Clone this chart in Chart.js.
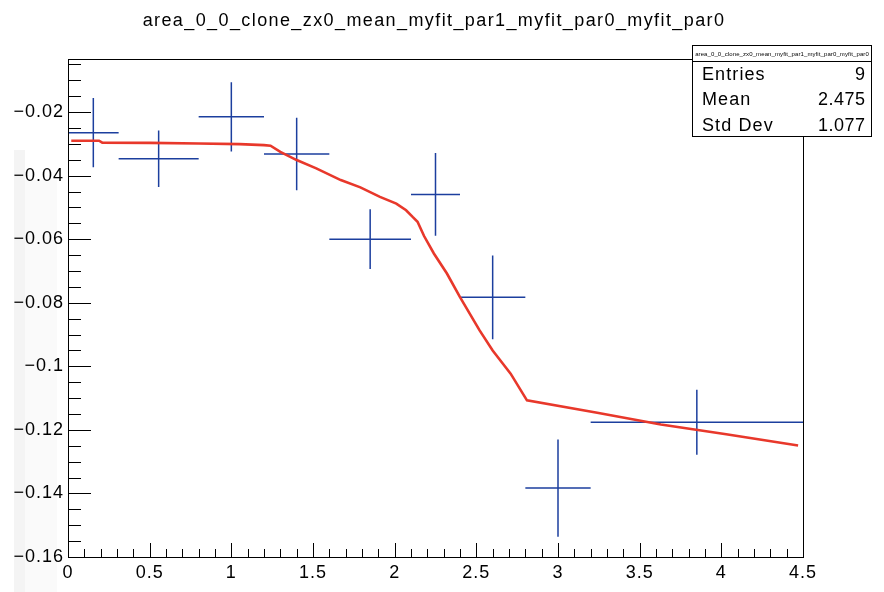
<!DOCTYPE html>
<html>
<head>
<meta charset="utf-8">
<script src="https://cdn.jsdelivr.net/npm/chart.js@4"></script>
<style>
  html, body { margin: 0; padding: 0; background: #fff; }
  #wrap { width: 884px; height: 592px; }
</style>
</head>
<body>
<div id="wrap"><canvas id="fitChart" width="884" height="592"></canvas></div>
<script>
const histName = "area_0_0_clone_zx0_mean_myfit_par1_myfit_par0_myfit_par0";

// bins (variable width) and mean values with errors
const binLow  = [0, 0.31, 0.8, 1.2, 1.6, 2.1, 2.4, 2.8, 3.2];
const binHigh = [0.31, 0.8, 1.2, 1.6, 2.1, 2.4, 2.8, 3.2, 4.5];
const binCenter = [0.155, 0.555, 1.0, 1.4, 1.85, 2.25, 2.6, 3.0, 3.85];
const binMean = [-0.0265, -0.0347, -0.0215, -0.0332, -0.0600, -0.0459, -0.0783, -0.1383, -0.1176];
const binErr  = [0.0109, 0.0089, 0.0109, 0.0114, 0.0094, 0.0130, 0.0132, 0.0153, 0.0102];

// fit curve samples
const fitX = [0.02, 0.19, 0.21, 0.5, 0.8, 1.05, 1.2, 1.24, 1.30, 1.40, 1.52, 1.67, 1.79, 1.91, 2.01,
              2.07, 2.11, 2.14, 2.18, 2.24, 2.32, 2.40, 2.52, 2.60, 2.71, 2.81, 3.24, 3.63, 4.03, 4.47];
const fitY = [-0.0290, -0.0290, -0.0296, -0.0297, -0.0299, -0.0301, -0.0304, -0.0306, -0.0325, -0.0351,
              -0.0377, -0.0414, -0.0437, -0.0467, -0.0488, -0.0509, -0.0530, -0.0545, -0.0590, -0.0645,
              -0.0708, -0.0782, -0.0887, -0.0950, -0.1023, -0.1107, -0.1146, -0.1183, -0.1214, -0.1249];

const xTicks = [0, 0.5, 1, 1.5, 2, 2.5, 3, 3.5, 4, 4.5];
const xTickLabels = ["0", "0.5", "1", "1.5", "2", "2.5", "3", "3.5", "4", "4.5"];
const yTicks = [-0.16, -0.14, -0.12, -0.1, -0.08, -0.06, -0.04, -0.02];
const yTickLabels = ["\u22120.16", "\u22120.14", "\u22120.12", "\u22120.1", "\u22120.08", "\u22120.06", "\u22120.04", "\u22120.02"];

const statNames = ["Entries", "Mean", "Std Dev"];
const statValues = ["9", "2.475", "1.077"];

const FONT = '"Liberation Sans", Arial, Helvetica, sans-serif';

// horizontal bars = bin width, vertical bars = error; null breaks the line
const hBars = binLow.flatMap((lo, i) => [
  { x: lo, y: binMean[i] }, { x: binHigh[i], y: binMean[i] }, { x: binHigh[i], y: null }
]);
const vBars = binCenter.flatMap((c, i) => [
  { x: c, y: binMean[i] - binErr[i] }, { x: c, y: binMean[i] + binErr[i] }, { x: c, y: null }
]);
const fitLine = fitX.map((x, i) => ({ x: x, y: fitY[i] }));

const rootStyle = {
  id: "rootStyle",
  beforeDraw(chart) {
    const ctx = chart.ctx;
    ctx.save();
    ctx.fillStyle = "#fff";
    ctx.fillRect(0, 0, chart.width, chart.height);
    ctx.fillStyle = "#f4f4f4";
    ctx.fillRect(14, 150, 11, 442);
    ctx.fillStyle = "#fafafa";
    ctx.fillRect(25, 180, 32, 412);
    ctx.restore();
    // slightly wider lettering for the axis labels
    ctx.letterSpacing = "1px";
  },
  afterDatasetsDraw(chart) {
    const ctx = chart.ctx, a = chart.chartArea;
    const xs = chart.scales.x, ys = chart.scales.y;
    ctx.save();
    ctx.strokeStyle = "#000";
    ctx.lineWidth = 1;
    ctx.strokeRect(Math.round(a.left) + 0.5, Math.round(a.top) + 0.5,
                   Math.round(a.right - a.left), Math.round(a.bottom - a.top));
    ctx.beginPath();
    // y ticks, pointing into the frame
    for (let k = 0; k <= 40; k++) {
      const v = ys.min + k * 0.005;
      if (v > ys.max) break;
      const py = Math.round(ys.getPixelForValue(v)) + 0.5;
      const len = k % 4 === 0 ? 23 : 13;
      ctx.moveTo(a.left, py);
      ctx.lineTo(a.left + len, py);
    }
    // x ticks
    for (let k = 0; k <= 45; k++) {
      const px = Math.round(xs.getPixelForValue(k * 0.1)) + 0.5;
      const len = k % 5 === 0 ? 14 : 8;
      ctx.moveTo(px, a.bottom);
      ctx.lineTo(px, a.bottom - len);
    }
    ctx.stroke();
    ctx.restore();
  },
  afterDraw(chart) {
    const ctx = chart.ctx;
    ctx.save();
    ctx.fillStyle = "#000";
    ctx.font = "18px " + FONT;
    ctx.letterSpacing = "1.4px";
    ctx.textAlign = "center";
    ctx.textBaseline = "alphabetic";
    ctx.fillText(histName, 434, 26);

    // stats box
    const bx = 692.5, by = 45.5, bw = 179, bh = 91;
    ctx.fillStyle = "#fff";
    ctx.fillRect(bx, by, bw, bh);
    ctx.strokeStyle = "#000";
    ctx.lineWidth = 1;
    ctx.strokeRect(bx, by, bw, bh);
    ctx.beginPath();
    ctx.moveTo(bx, 61.5);
    ctx.lineTo(bx + bw, 61.5);
    ctx.stroke();

    ctx.save();
    ctx.beginPath();
    ctx.rect(bx, by, bw, 16);
    ctx.clip();
    ctx.fillStyle = "#000";
    ctx.font = "6px " + FONT;
    ctx.letterSpacing = "0.1px";
    ctx.textAlign = "center";
    ctx.fillText(histName, bx + bw / 2, 56);
    ctx.restore();

    ctx.fillStyle = "#000";
    ctx.font = "18px " + FONT;
    const rows = [80, 105, 130.5];
    statNames.forEach((name, i) => {
      ctx.letterSpacing = "1.1px";
      ctx.textAlign = "left";
      ctx.fillText(name, 702, rows[i]);
      ctx.letterSpacing = "0.5px";
      ctx.textAlign = "right";
      ctx.fillText(statValues[i], 865.5, rows[i]);
    });
    ctx.restore();
  }
};

new Chart(document.getElementById("fitChart"), {
  type: "scatter",
  data: {
    datasets: [
      {
        label: "fit",
        data: fitLine,
        showLine: true,
        borderColor: "#e8382b",
        borderWidth: 2.6,
        pointRadius: 0,
        tension: 0,
        order: 0
      },
      {
        label: "bins",
        data: hBars,
        showLine: true,
        spanGaps: false,
        borderColor: "#1c3f9e",
        borderWidth: 1.5,
        pointRadius: 0,
        order: 1
      },
      {
        label: "errors",
        data: vBars,
        showLine: true,
        spanGaps: false,
        borderColor: "#1c3f9e",
        borderWidth: 1.5,
        pointRadius: 0,
        order: 1
      }
    ]
  },
  options: {
    responsive: false,
    animation: false,
    devicePixelRatio: 1,
    layout: { padding: { top: 59, right: 81, left: 0, bottom: 0 } },
    plugins: {
      legend: { display: false },
      tooltip: { enabled: false },
      title: { display: false }
    },
    scales: {
      x: {
        type: "linear",
        min: 0,
        max: 4.5,
        grid: { display: false, drawTicks: false },
        border: { display: false },
        afterBuildTicks: s => { s.ticks = xTicks.map(v => ({ value: v })); },
        afterFit: s => { s.height = 35; },
        ticks: {
          color: "#000",
          font: { size: 18, family: FONT },
          padding: 5,
          maxRotation: 0,
          callback: (v, i) => xTickLabels[i]
        }
      },
      y: {
        type: "linear",
        min: -0.16,
        max: -0.0033,
        grid: { display: false, drawTicks: false },
        border: { display: false },
        afterBuildTicks: s => { s.ticks = yTicks.map(v => ({ value: v })); },
        afterFit: s => { s.width = 68; },
        ticks: {
          color: "#000",
          font: { size: 18, family: FONT },
          padding: 4,
          callback: (v, i) => yTickLabels[i]
        }
      }
    }
  },
  plugins: [rootStyle]
});
</script>
</body>
</html>
